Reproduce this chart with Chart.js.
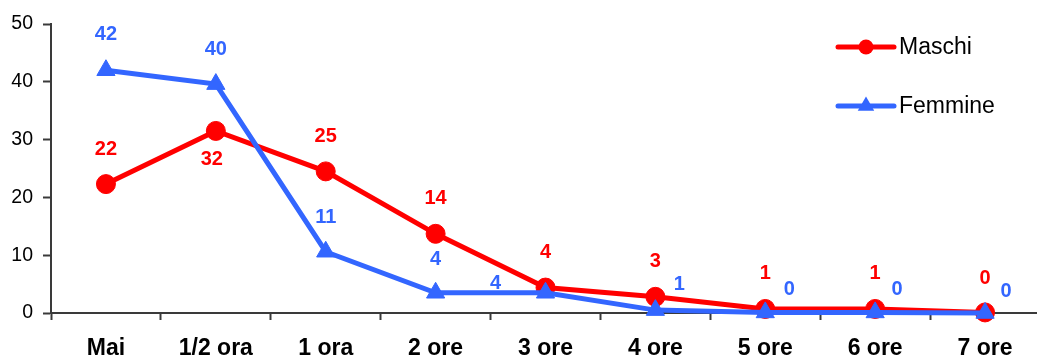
<!DOCTYPE html>
<html>
<head>
<meta charset="utf-8">
<script src="https://cdn.jsdelivr.net/npm/chart.js@4/dist/chart.umd.min.js"></script>
<style>
  html, body { margin: 0; padding: 0; background: #ffffff; overflow: hidden; }
  #wrap { width: 1041px; height: 358px; }
</style>
</head>
<body>
<div id="wrap"><canvas id="chart" width="1041" height="358"></canvas></div>
<script>
// Categories (time spent) and the two series
const categories = ['Mai', '1/2 ora', '1 ora', '2 ore', '3 ore', '4 ore', '5 ore', '6 ore', '7 ore'];
const maschi = [22.3, 31.5, 24.5, 13.7, 4.4, 2.8, 0.7, 0.7, 0.1];
const femmine = [42, 39.6, 10.6, 3.5, 3.5, 0.5, 0.1, 0.1, 0];
const yTicks = [0, 10, 20, 30, 40, 50];

const RED = '#ff0000';
const BLUE = '#3366ff';
const AXIS = '#3a3a3a';
const FONT = '"Liberation Sans", Arial, Helvetica, sans-serif';

// Where each value label sits relative to its marker (dx, dy in px)
const labelOffsets = {
  Maschi:  [[0, -35], [-4, 29], [0, -35], [0, -35], [0, -35], [0, -35], [0, -35], [0, -35], [0, -34]],
  Femmine: [[0, -36], [0, -35], [0, -34], [0, -33], [-50, -9], [24, -26], [24, -23], [22, -23], [21, -22]]
};

// Value labels above/beside each point
const valueLabels = {
  id: 'valueLabels',
  afterDatasetsDraw(chart) {
    const ctx = chart.ctx;
    ctx.save();
    ctx.font = 'bold 20px ' + FONT;
    ctx.textAlign = 'center';
    ctx.textBaseline = 'middle';
    chart.data.datasets.forEach((ds, di) => {
      const meta = chart.getDatasetMeta(di);
      const offs = labelOffsets[ds.label];
      ctx.fillStyle = ds.borderColor;
      meta.data.forEach((pt, i) => {
        const [dx, dy] = offs[i];
        ctx.fillText(String(Math.round(ds.data[i])), pt.x + dx, pt.y + dy);
      });
    });
    ctx.restore();
  }
};

// Legend: line with marker, then the series name
const lineLegend = {
  id: 'lineLegend',
  afterDraw(chart) {
    const ctx = chart.ctx;
    const rows = [
      { label: 'Maschi', color: RED, shape: 'circle', y: 47 },
      { label: 'Femmine', color: BLUE, shape: 'triangle', y: 106 }
    ];
    ctx.save();
    rows.forEach(r => {
      ctx.strokeStyle = r.color;
      ctx.fillStyle = r.color;
      ctx.lineWidth = 5;
      ctx.lineCap = 'round';
      ctx.beginPath();
      ctx.moveTo(838, r.y);
      ctx.lineTo(894, r.y);
      ctx.stroke();
      ctx.beginPath();
      if (r.shape === 'circle') {
        ctx.arc(866, r.y, 7.5, 0, Math.PI * 2);
      } else {
        const rad = 9.5;
        ctx.moveTo(866, r.y - rad);
        ctx.lineTo(866 + rad * Math.sin(Math.PI * 2 / 3), r.y + rad / 2);
        ctx.lineTo(866 - rad * Math.sin(Math.PI * 2 / 3), r.y + rad / 2);
        ctx.closePath();
      }
      ctx.fill();
      ctx.fillStyle = '#000000';
      ctx.font = '23px ' + FONT;
      ctx.textAlign = 'left';
      ctx.textBaseline = 'middle';
      ctx.fillText(r.label, 899, r.y + 1);
    });
    ctx.restore();
  }
};

new Chart(document.getElementById('chart'), {
  type: 'line',
  data: {
    labels: categories,
    datasets: [
      {
        label: 'Maschi',
        data: maschi,
        borderColor: RED,
        backgroundColor: RED,
        borderWidth: 5,
        pointStyle: 'circle',
        pointRadius: 9.5,
        pointBorderWidth: 1,
        pointBackgroundColor: RED,
        pointBorderColor: RED,
        tension: 0,
        clip: false,
        order: 1
      },
      {
        label: 'Femmine',
        data: femmine,
        borderColor: BLUE,
        backgroundColor: BLUE,
        borderWidth: 5,
        pointStyle: 'triangle',
        pointRadius: 10.5,
        pointBorderWidth: 1,
        pointBackgroundColor: BLUE,
        pointBorderColor: BLUE,
        tension: 0,
        clip: false,
        order: 0
      }
    ]
  },
  options: {
    responsive: false,
    animation: false,
    devicePixelRatio: 1,
    layout: { autoPadding: false, padding: { top: 24, right: 1, bottom: 0, left: 0 } },
    plugins: {
      legend: { display: false },
      title: { display: false },
      tooltip: { enabled: false }
    },
    scales: {
      x: {
        type: 'category',
        offset: true,
        grid: {
          offset: true,
          drawOnChartArea: false,
          drawTicks: true,
          tickLength: 7,
          tickColor: AXIS,
          tickWidth: 2
        },
        border: { display: true, color: AXIS, width: 2 },
        ticks: {
          color: '#000000',
          font: { family: FONT, size: 23, weight: 'bold', lineHeight: 2.45 },
          padding: 0,
          autoSkip: false,
          maxRotation: 0
        },
        afterFit(scale) { scale.height = 45; }
      },
      y: {
        min: 0,
        max: 50,
        grid: {
          drawOnChartArea: false,
          drawTicks: true,
          tickLength: 8,
          tickColor: AXIS,
          tickWidth: 2
        },
        border: { display: true, color: AXIS, width: 2 },
        ticks: {
          color: '#000000',
          font: { family: FONT, size: 19.5 },
          padding: 10,
          stepSize: 10
        },
        afterBuildTicks(scale) { scale.ticks = yTicks.map(v => ({ value: v })); },
        afterFit(scale) { scale.width = 51; }
      }
    }
  },
  plugins: [valueLabels, lineLegend]
});
</script>
</body>
</html>
